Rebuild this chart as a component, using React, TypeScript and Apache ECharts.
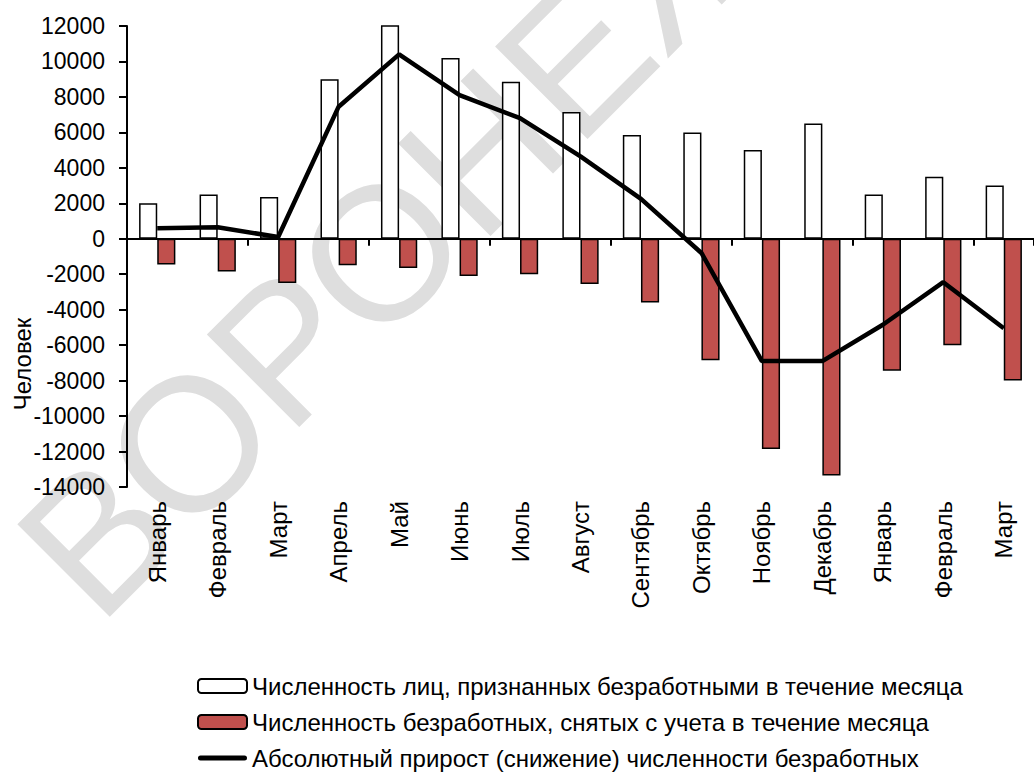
import React, { useEffect, useRef } from "react";
import * as echarts from "echarts";

const months = [
  "Январь", "Февраль", "Март", "Апрель", "Май", "Июнь", "Июль", "Август",
  "Сентябрь", "Октябрь", "Ноябрь", "Декабрь", "Январь", "Февраль", "Март",
];
const recognized = [2000, 2500, 2350, 9000, 12100, 10200, 8850, 7150, 5850, 6000, 5000, 6500, 2500, 3500, 3000];
const removed = [-1450, -1850, -2500, -1500, -1650, -2100, -2000, -2550, -3600, -6850, -11850, -13350, -7450, -6000, -8000];
const growth = [600, 650, 100, 7450, 10400, 8100, 6800, 4650, 2250, -800, -6900, -6900, -4850, -2450, -5050];

const seriesNames = [
  "Численность лиц, признанных безработными в течение месяца",
  "Численность безработных, снятых с учета в течение месяца",
  "Абсолютный прирост (снижение) численности безработных",
];
const yAxisTitle = "Человек";
const watermark = "ВОРОНЕЖСТАТ";

const FONT = "'Liberation Sans', Arial, sans-serif";

export default function App() {
  const ref = useRef<HTMLDivElement>(null);
  useEffect(() => {
    if (!ref.current) return;
    const chart = echarts.init(ref.current, undefined, { renderer: "svg" });
    chart.setOption({
      animation: false,
      backgroundColor: "#ffffff",
      textStyle: { fontFamily: FONT, color: "#000" },
      grid: { left: 127, right: -8, top: 26, bottom: 286, containLabel: false },
      graphic: [
        {
          type: "text",
          z: -10,
          silent: true,
          x: 52,
          y: 581,
          rotation: Math.PI / 4,
          style: {
            text: watermark,
            fontSize: 190,
            fontFamily: FONT,
            fill: "#dedede",
            align: "left",
            verticalAlign: "middle",
          },
        },
        {
          type: "text",
          x: 22,
          y: 364,
          rotation: Math.PI / 2,
          style: {
            text: yAxisTitle,
            fontSize: 24,
            fontFamily: FONT,
            fill: "#000",
            align: "center",
            verticalAlign: "middle",
          },
        },
      ],
      legend: {
        orient: "vertical",
        left: 197,
        top: 674,
        padding: 0,
        itemWidth: 49,
        itemHeight: 14,
        itemGap: 12,
        textStyle: { fontSize: 24, color: "#000", fontFamily: FONT },
        data: [
          { name: seriesNames[0] },
          { name: seriesNames[1] },
          {
            name: seriesNames[2],
            icon: "path://M2.5,0 L46.5,0 A2.5,2.5 0 0 1 46.5,5 L2.5,5 A2.5,2.5 0 0 1 2.5,0 Z",
            itemStyle: { color: "#000" },
          },
        ],
      },
      xAxis: [
        {
          type: "category",
          data: months,
          position: "top",
          axisLine: { onZero: true, lineStyle: { color: "#000", width: 2 } },
          axisTick: { show: true, inside: true, length: 7, lineStyle: { color: "#000", width: 2 } },
          axisLabel: { show: false },
          splitLine: { show: false },
        },
        {
          type: "category",
          data: months,
          position: "bottom",
          axisLine: { show: false, onZero: false },
          axisTick: { show: false },
          axisLabel: {
            interval: 0,
            rotate: 90,
            margin: 14,
            fontSize: 24,
            color: "#000",
            fontFamily: FONT,
          },
          splitLine: { show: false },
        },
      ],
      yAxis: {
        type: "value",
        min: -14000,
        max: 12000,
        interval: 2000,
        axisLine: { show: true, lineStyle: { color: "#000", width: 2 } },
        axisTick: { show: true, length: 8, lineStyle: { color: "#000", width: 2 } },
        axisLabel: {
          fontSize: 23,
          color: "#000",
          margin: 22,
          fontFamily: FONT,
          formatter: (v: number) => String(v),
        },
        splitLine: { show: false },
      },
      series: [
        {
          name: seriesNames[0],
          type: "bar",
          xAxisIndex: 0,
          data: recognized,
          barWidth: "30%",
          barGap: "0%",
          itemStyle: { color: "#ffffff", borderColor: "#000", borderWidth: 1.5 },
        },
        {
          name: seriesNames[1],
          type: "bar",
          xAxisIndex: 0,
          data: removed,
          barWidth: "30%",
          barGap: "0%",
          itemStyle: { color: "#c0504d", borderColor: "#000", borderWidth: 1.5 },
        },
        {
          name: seriesNames[2],
          type: "line",
          xAxisIndex: 0,
          data: growth,
          symbol: "none",
          lineStyle: { color: "#000", width: 4.5 },
          itemStyle: { color: "#000" },
        },
      ],
    });
    return () => chart.dispose();
  }, []);
  return <div ref={ref} style={{ width: 1034, height: 773, position: "absolute", left: 0, top: 0 }} />;
}
